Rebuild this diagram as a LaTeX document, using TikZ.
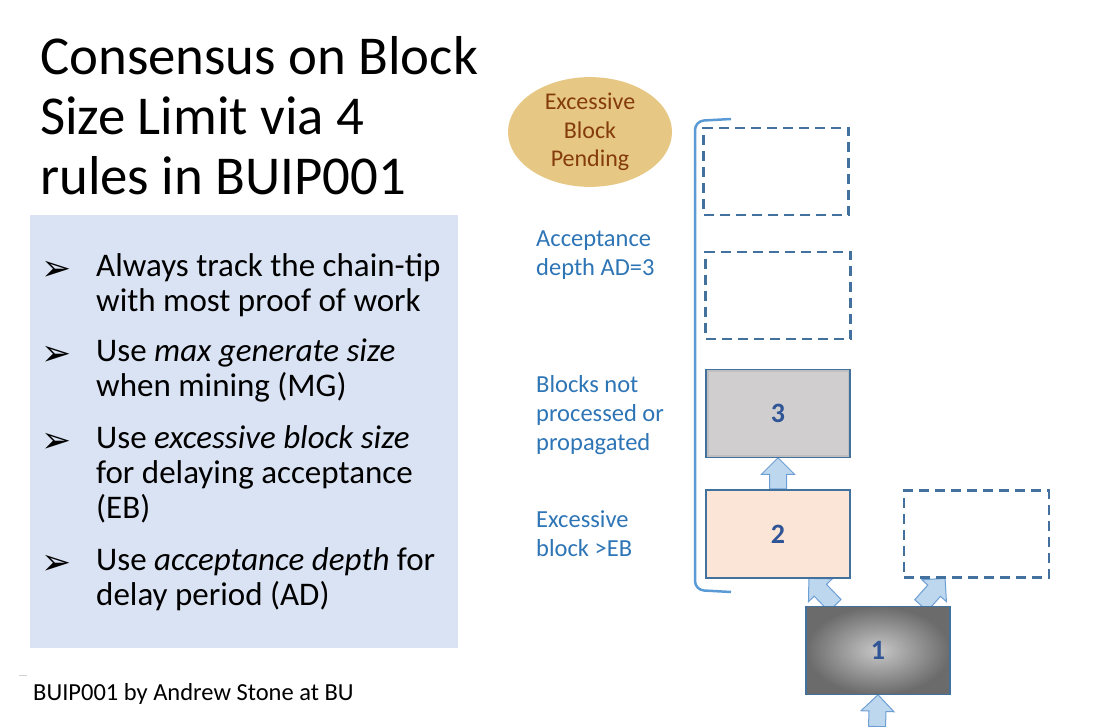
\documentclass[tikz,border=0pt]{standalone}
\usepackage{fontspec}
\setmainfont{Carlito}
\newfontfamily\symfont{DejaVu Sans}
\usetikzlibrary{shapes.geometric, shapes.arrows, positioning, calc, backgrounds}

\definecolor{panel}{HTML}{DAE3F3}
\definecolor{linkblue}{HTML}{2E75B6}
\definecolor{edge}{HTML}{41719C}
\definecolor{numblue}{HTML}{2F5597}
\definecolor{peach}{HTML}{FBE5D6}
\definecolor{stone}{HTML}{D0CECE}
\definecolor{tan}{HTML}{E7C784}
\definecolor{rust}{HTML}{843C0C}
\definecolor{bracket}{HTML}{5B9BD5}
\definecolor{arrowfill}{HTML}{BDD7EE}
\definecolor{arrowedge}{HTML}{6E9FD4}

\begin{document}
\begin{tikzpicture}[x=1pt, y=-1pt,
    every node/.append style={execute at begin node={\spaceskip=0pt\xspaceskip=0pt}},
    block/.style={rectangle, draw=edge, line width=1.5pt, minimum width=144pt, minimum height=88pt,
        text=numblue, font=\bfseries\fontsize{28}{30}\selectfont},
    pend/.style={rectangle, draw=edge, dash pattern=on 10pt off 6pt, line width=2.5pt,
        minimum width=145pt, minimum height=87pt},
    sidenote/.style={anchor=base west, text width=160pt, align=left, inner sep=0pt, text=linkblue,
        font=\fontsize{24.5}{29}\selectfont},
    ruletext/.style={anchor=base west, text width=355pt, align=left, inner sep=0pt,
        font=\fontsize{33}{35}\selectfont},
    bullet/.style={anchor=base west, inner sep=0pt, font=\symfont\fontsize{36}{36}\selectfont},
    bigarrow/.style={single arrow, draw=arrowedge, fill=arrowfill, line width=1pt,
        inner xsep=0pt, inner ysep=8pt, single arrow head extend=8pt, single arrow tip angle=90},
    fat/.style={to path={let \p1=(\tikztostart), \p2=(\tikztotarget),
        \n1={veclen(\x2-\x1,\y2-\y1)}, \n2={atan2(\y2-\y1,\x2-\x1)} in
        node[bigarrow, minimum height=\n1, rotate=\n2, anchor=tail, at={(\p1)}] {} (\tikztotarget)}}]
    \useasboundingbox (0,0) rectangle (1106,727);

    %title and rules
    \node[anchor=base west, text width=470pt, align=left, inner sep=0pt,
        font=\fontsize{54.8}{60}\selectfont] (title) at (40,75)
        {Consensus on Block\\Size Limit via 4\\rules in BUIP001};
    \node[fill=panel, minimum width=428pt, minimum height=433pt, anchor=north west] (rules) at (30,215) {};
    \node[bullet] (t1) at (41,281) {➢};
    \node[ruletext] (r1) at (96,277) {Always track the chain-tip\\with most proof of work};
    \node[bullet] (t2) at (41,366) {➢};
    \node[ruletext] (r2) at (96,362) {Use \emph{max generate size}\\when mining (MG)};
    \node[bullet] (t3) at (41,452) {➢};
    \node[ruletext] (r3) at (96,448) {Use \emph{excessive block size}\\for delaying acceptance\\(EB)};
    \node[bullet] (t4) at (41,574) {➢};
    \node[ruletext] (r4) at (96,570) {Use \emph{acceptance depth} for\\delay period (AD)};
    \node[anchor=base west, inner sep=0pt, font=\fontsize{24.5}{29}\selectfont] (credit) at (33,700)
        {BUIP001 by Andrew Stone at BU};
    \draw[gray!35, line width=1pt] (19,675) -- (27,675);

    %define the blocks
    \node[block, fill=peach] (b2) at (778,534) {2};
    \node[block, fill=stone, above=31pt of b2,
        path picture={\draw[black!30, line width=5pt, opacity=0.5]
            (path picture bounding box.south west) rectangle (path picture bounding box.north east);}] (b3) {3};
    \node[block, inner color=black!22, outer color=black!58] (b1) at (878,650.5) {1};
    \node[pend] (pendB) at (778,295.5) {};
    \node[pend] (pendA) at (776,171.5) {};
    \node[pend, right=52pt of b2] (side) {};
    \node[ellipse, fill=tan, minimum width=164pt, minimum height=106pt, inner sep=0pt, align=center,
        text=rust, font=\fontsize{24}{28.5}\selectfont] (pending) at (590,132)
        {Excessive\\Block\\Pending};

    %labels on the left of the chain
    \node[sidenote] (depth) at (536,247) {Acceptance\\depth AD=3};
    \node[sidenote] (held) at (536,392) {Blocks not\\processed or\\propagated};
    \node[sidenote] (excess) at (536,527) {Excessive\\block >EB};
    \draw[bracket, line width=2.5pt, rounded corners=9pt] (731,119) -- (695,121) -- (695,590) -- (731,592);

    %define the links
    \coordinate (feed) at (877,727);
    \begin{scope}[on background layer]
    \path (b2.north) to[fat] (b3.south)
          ([xshift=30pt]b1.north west) to[fat] ([xshift=104pt]b2.south west)
          ([xshift=-30pt]b1.north east) to[fat] ([xshift=42pt]side.south west)
          (feed) to[fat] (b1.south);
    \end{scope}
\end{tikzpicture}
\end{document}
